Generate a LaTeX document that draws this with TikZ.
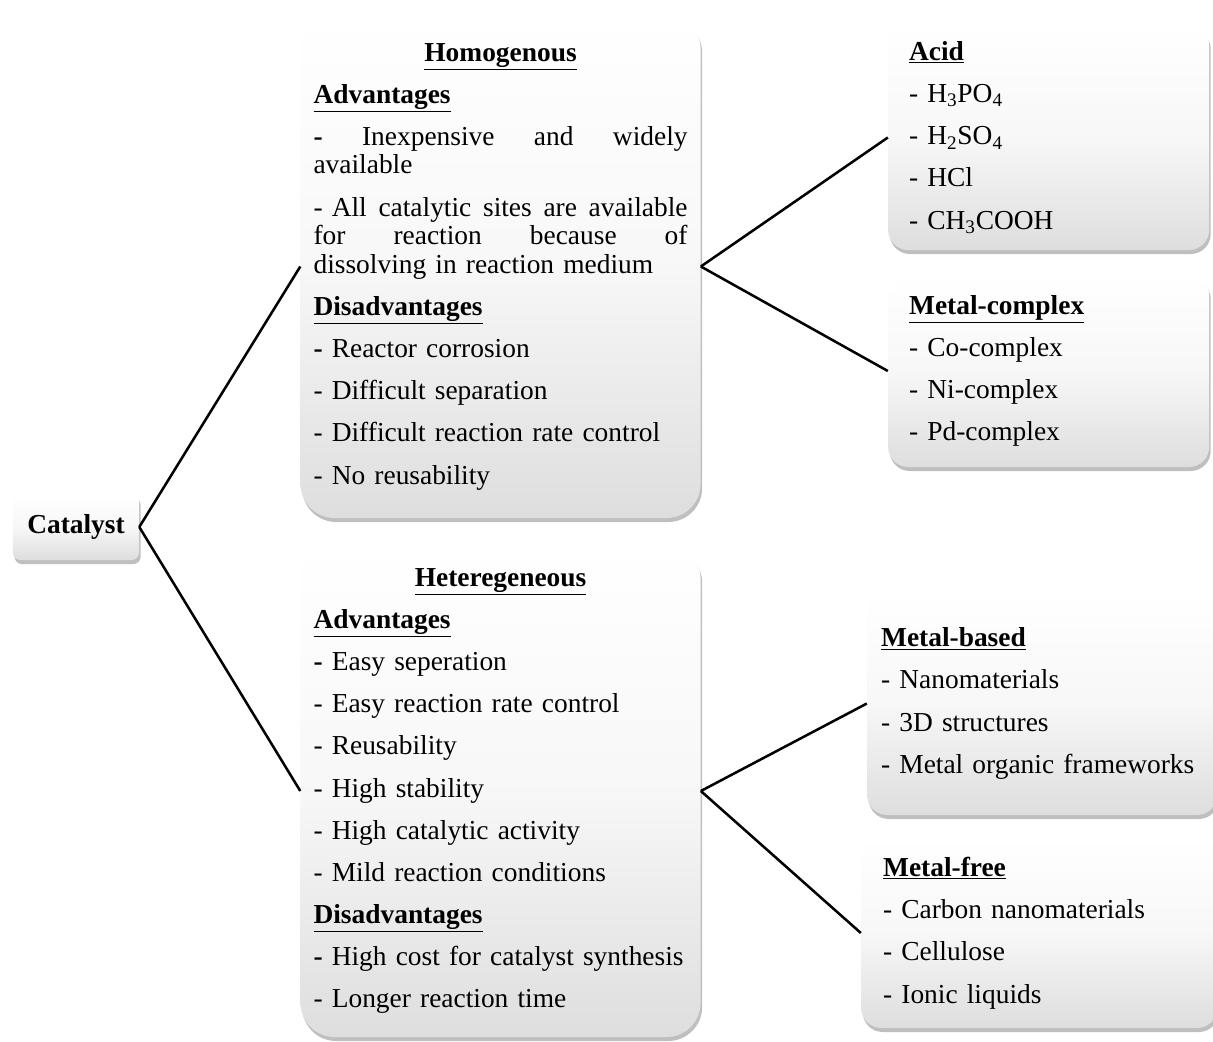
\documentclass[tikz,border=0pt]{standalone}
\usepackage{fontspec}
\setmainfont{Liberation Serif}
\usetikzlibrary{positioning,shadows}

\begin{document}
\begin{tikzpicture}[
  font=\fontsize{19.5pt}{20.3pt}\selectfont,
  box/.style={rectangle, rounded corners=0.5cm, top color=white, bottom color=black!13, middle color=black!3, drop shadow={shadow xshift=0.04cm, shadow yshift=-0.1cm, opacity=0.5}, align=left, inner ysep=0pt},
  bigbox/.style={box, rounded corners=0.85cm, text width=9.35cm, inner xsep=0.325cm},
  link/.style={line width=1.8pt}
]
\useasboundingbox (0,0) rectangle (30.325,-26.025);

\node[box, rounded corners=0.18cm, minimum width=3.15cm, minimum height=1.65cm, align=center] (cat) at (1.9,-13.175) {\textbf{Catalyst}};

\node[bigbox, minimum height=12.575cm, right=4.025cm of cat, yshift=6.5125cm] (homo) {%
\makebox[\linewidth]{\underline{\textbf{Homogenous}}}\\[9.7pt]
\underline{\textbf{Advantages}}\\[9.7pt]
\makebox[\linewidth][s]{\textbf{-}\hfill Inexpensive\hfill and\hfill widely}\\
available\\[9.7pt]
\makebox[\linewidth][s]{- All\hfill catalytic\hfill sites\hfill are\hfill available}\\
\makebox[\linewidth][s]{for\hfill reaction\hfill because\hfill of}\\
dissolving in reaction medium\\[9.7pt]
\underline{\textbf{Disadvantages}}\\[9.7pt]
\textbf{-} Reactor corrosion\\[9.7pt]
- Difficult separation\\[9.7pt]
- Difficult reaction rate control\\[9.7pt]
- No reusability};

\node[bigbox, minimum height=12.3cm, right=4.025cm of cat, yshift=-6.6cm] (hetero) {%
\makebox[\linewidth]{\underline{\textbf{Heteregeneous}}}\\[9.7pt]
\underline{\textbf{Advantages}}\\[9.7pt]
\textbf{-} Easy seperation\\[9.7pt]
- Easy reaction rate control\\[9.7pt]
- Reusability\\[9.7pt]
- High stability\\[9.7pt]
- High catalytic activity\\[9.7pt]
- Mild reaction conditions\\[9.7pt]
\underline{\textbf{Disadvantages}}\\[9.7pt]
\textbf{-} High cost for catalyst synthesis\\[9.7pt]
- Longer reaction time};

\node[box, text width=6.975cm, inner xsep=0.525cm, minimum height=5.625cm, right=4.675cm of homo, yshift=3.225cm] (acid) {%
\underline{\textbf{Acid}}\\[9.7pt]
- H\textsubscript{3}PO\textsubscript{4}\\[9.7pt]
- H\textsubscript{2}SO\textsubscript{4}\\[9.7pt]
- HCl\\[9.7pt]
- CH\textsubscript{3}COOH};

\node[box, text width=6.975cm, inner xsep=0.525cm, minimum height=4.8cm, right=4.675cm of homo, yshift=-2.6125cm] (complex) {%
\underline{\textbf{Metal-complex}}\\[9.7pt]
- Co-complex\\[9.7pt]
- Ni-complex\\[9.7pt]
- Pd-complex};

\node[box, text width=8.05cm, inner xsep=0.35cm, minimum height=5.575cm, right=4.15cm of hetero, yshift=2.1875cm] (based) {%
\underline{\textbf{Metal-based}}\\[9.7pt]
- Nanomaterials\\[9.7pt]
- 3D structures\\[9.7pt]
- Metal organic frameworks};

\node[box, text width=7.8cm, inner xsep=0.55cm, minimum height=4.75cm, right=4cm of hetero, yshift=-3.55cm] (free) {%
\underline{\textbf{Metal-free}}\\[9.7pt]
- Carbon nanomaterials\\[9.7pt]
- Cellulose\\[9.7pt]
- Ionic liquids};

\draw[link] (cat.east) -- (homo.west);
\draw[link] (cat.east) -- (hetero.west);
\draw[link] (homo.east) -- (acid.west);
\draw[link] (homo.east) -- (complex.west);
\draw[link] (hetero.east) -- (based.west);
\draw[link] (hetero.east) -- (free.west);

\end{tikzpicture}
\end{document}
